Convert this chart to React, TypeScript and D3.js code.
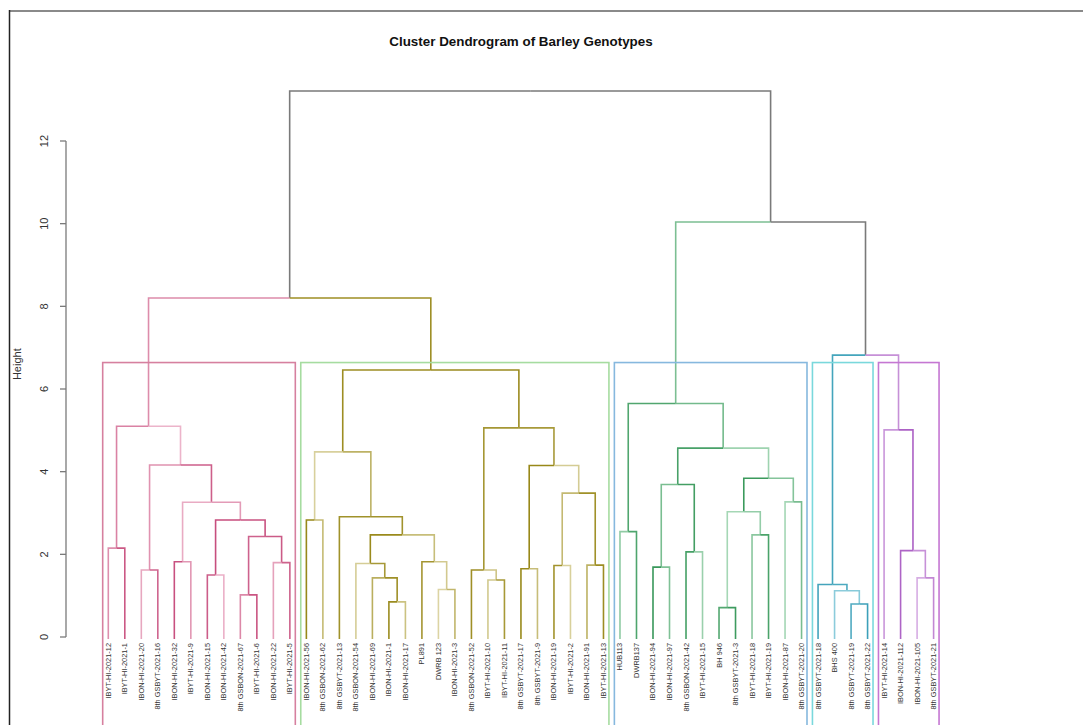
import React from "react";
import * as d3 from "d3";

const title = "Cluster Dendrogram of Barley Genotypes";
const yLabel = "Height";
const yTicks = [0, 2, 4, 6, 8, 10, 12];

const leafLabels = [
  "IBYT-HI-2021-12", "IBYT-HI-2021-1", "IBON-HI-2021-20", "8th GSBYT-2021-16", "IBON-HI-2021-32",
  "IBYT-HI-2021-9", "IBON-HI-2021-15", "IBON-HI-2021-42", "8th GSBON-2021-67", "IBYT-HI-2021-6",
  "IBON-HI-2021-22", "IBYT-HI-2021-5",
  "IBON-HI-2021-56", "8th GSBON-2021-62", "8th GSBYT-2021-13", "8th GSBON-2021-54", "IBON-HI-2021-69",
  "IBON-HI-2021-1", "IBON-HI-2021-17", "PL891", "DWRB 123", "IBON-HI-2021-3", "8th GSBON-2021-52",
  "IBYT-HI-2021-10", "IBYT-HI-2021-11", "8th GSBYT-2021-17", "8th GSBYT-2021-9", "IBON-HI-2021-19",
  "IBYT-HI-2021-2", "IBON-HI-2021-91", "IBYT-HI-2021-13",
  "HUB113", "DWRB137", "IBON-HI-2021-94", "IBON-HI-2021-97", "8th GSBON-2021-42", "IBYT-HI-2021-15",
  "BH 946", "8th GSBYT-2021-3", "IBYT-HI-2021-18", "IBYT-HI-2021-19", "IBON-HI-2021-87", "8th GSBYT-2021-20",
  "8th GSBYT-2021-18", "BHS 400", "8th GSBYT-2021-19", "8th GSBYT-2021-22",
  "IBYT-HI-2021-14", "IBON-HI-2021-112", "IBON-HI-2021-105", "8th GSBYT-2021-21",
];

// cluster (k = 5) of each leaf
const leafCluster = [
  1, 1, 1, 1, 1, 1, 1, 1, 1, 1, 1, 1,
  2, 2, 2, 2, 2, 2, 2, 2, 2, 2, 2, 2, 2, 2, 2, 2, 2, 2, 2,
  3, 3, 3, 3, 3, 3, 3, 3, 3, 3, 3, 3,
  4, 4, 4, 4,
  5, 5, 5, 5,
];

// hclust-style merges: negative = leaf (1-based), positive = merge row (1-based)
const merges: [number, number][] = [
  [-9, -10], [-7, -8], [-3, -4], [-11, -12], [-5, -6], [-1, -2], [1, 4], [2, 7], [5, 8], [3, 9], [6, 10],
  [-18, -19], [-21, -22], [-17, 12], [-16, 14], [-20, 13], [15, 16], [-13, -14], [-15, 17], [18, 19],
  [-24, -25], [-23, 21], [-26, -27], [-28, -29], [-30, -31], [24, 25], [23, 26], [22, 27], [20, 28], [11, 29],
  [-38, -39], [-34, -35], [-36, -37], [-40, -41], [-32, -33], [31, 34], [-42, -43], [32, 33], [36, 37], [38, 39], [35, 40],
  [-46, -47], [-45, 42], [-44, 43],
  [-50, -51], [-49, 45], [-48, 46], [44, 47], [41, 48], [30, 49],
];
const mergeHeights = [
  1.02, 1.5, 1.62, 1.8, 1.82, 2.15, 2.43, 2.83, 3.26, 4.16, 5.1,
  0.85, 1.15, 1.43, 1.78, 1.82, 2.47, 2.83, 2.91, 4.48,
  1.38, 1.62, 1.65, 1.73, 1.74, 3.48, 4.15, 5.06, 6.46, 8.2,
  0.71, 1.69, 2.06, 2.47, 2.55, 3.03, 3.27, 3.69, 3.84, 4.57, 5.65,
  0.8, 1.12, 1.27,
  1.43, 2.09, 5.01, 6.82, 10.04, 13.21,
];

const clusterColors: Record<number, { dark: string; light: string; rect: string }> = {
  1: { dark: "#c64c7c", light: "#edb6cb", rect: "#d6809f" },
  2: { dark: "#978717", light: "#ddd6a6", rect: "#a6dca0" },
  3: { dark: "#38985a", light: "#a9d9b9", rect: "#86b8de" },
  4: { dark: "#3a9fb8", light: "#9fd7e3", rect: "#7ad8dc" },
  5: { dark: "#a656c0", light: "#dbb6e7", rect: "#c577d2" },
};

type Node = { id: number; x: number; h: number; cluster: number; children?: Node[] };

export default function App() {
  const W = 1083, H = 725;
  const x = d3.scalePoint<string>().domain(leafLabels).range([108.3, 933.6]);
  const y = d3.scaleLinear().domain([0, 12]).range([637, 141]);
  const step = x.step();

  const build = (ref: number): Node => {
    if (ref < 0) {
      const i = -ref - 1;
      return { id: -ref, x: x(leafLabels[i]) as number, h: 0, cluster: leafCluster[i] };
    }
    const [a, b] = merges[ref - 1];
    const l = build(a), r = build(b);
    return {
      id: 100 + ref,
      x: (l.x + r.x) / 2,
      h: mergeHeights[ref - 1],
      cluster: l.cluster === r.cluster ? l.cluster : 0,
      children: [l, r],
    };
  };
  const root = build(merges.length);

  const shade = (n: Node) => {
    const t = (n.id * 0.618034) % 1;
    const c = clusterColors[n.cluster];
    return d3.interpolateRgb(c.dark, c.light)(t < 0.5 ? t * 0.5 : 0.5 + (t - 0.5) * 1.0);
  };

  const segs: { d: string; color: string }[] = [];
  const walk = (n: Node, parentCluster: number) => {
    if (!n.children) return;
    for (const c of n.children) {
      let color: string;
      if (c.cluster === 0) color = "#7a7a7a";
      else if (n.cluster === 0) color = d3.interpolateRgb(clusterColors[c.cluster].dark, clusterColors[c.cluster].light)(c.cluster % 2 === 1 ? 0.6 : 0.1);
      else color = shade(c);
      const yBottom = c.children ? y(c.h) : y(0) + 2;
      segs.push({ d: `M${n.x},${y(n.h)}H${c.x}V${yBottom}`, color });
      walk(c, n.cluster);
    }
  };
  walk(root, 0);

  // rectangles for k = 5
  const sortedH = [...mergeHeights].sort((a, b) => b - a);
  const rectTop = (sortedH[3] + sortedH[4]) / 2;
  const clusters = Array.from(new Set(leafCluster));
  const rects = clusters.map((k) => {
    const idx = leafCluster.map((c, i) => (c === k ? i : -1)).filter((i) => i >= 0);
    const x0 = (x(leafLabels[idx[0]]) as number) - 0.34 * step;
    const x1 = (x(leafLabels[idx[idx.length - 1]]) as number) + 0.33 * step;
    return { k, x0, x1 };
  });

  return (
    <div style={{ position: "absolute", left: 0, top: 0, width: W, height: H, background: "#fff" }}>
      <svg width={W} height={H} style={{ display: "block", fontFamily: "'Liberation Sans', Arial, sans-serif" }}>
        <rect x={0} y={0} width={W} height={H} fill="#fff" />
        <line x1={9} x2={W} y1={11} y2={11} stroke="#8a8a8a" strokeWidth={2} />
        <line x1={9.5} x2={9.5} y1={10} y2={H} stroke="#222" strokeWidth={1.5} />
        <text x={521} y={46} textAnchor="middle" fontWeight="bold" fontSize={13.4} fill="#111">
          {title}
        </text>
        {/* y axis */}
        <line x1={66} x2={66} y1={y(0)} y2={y(12)} stroke="#7a7a7a" strokeWidth={1.3} />
        {yTicks.map((t) => (
          <g key={t}>
            <line x1={60} x2={66} y1={y(t)} y2={y(t)} stroke="#7a7a7a" strokeWidth={1.3} />
            <text transform={`translate(48,${y(t)}) rotate(-90)`} textAnchor="middle" fontSize={11} fill="#333">
              {t}
            </text>
          </g>
        ))}
        <text transform={`translate(21,${y(6.6)}) rotate(-90)`} textAnchor="middle" fontSize={11} fill="#333">
          {yLabel}
        </text>
        {/* branches */}
        {segs.map((s, i) => (
          <path key={i} d={s.d} fill="none" stroke={s.color} strokeWidth={1.6} />
        ))}
        {/* cluster rectangles */}
        {rects.map((r) => (
          <rect
            key={r.k}
            x={r.x0}
            y={y(rectTop)}
            width={r.x1 - r.x0}
            height={H + 20 - y(rectTop)}
            fill="none"
            stroke={clusterColors[r.k].rect}
            strokeWidth={1.6}
          />
        ))}
        {/* leaf labels */}
        {leafLabels.map((l) => (
          <text
            key={l}
            transform={`translate(${(x(l) as number) + 2.5},643) rotate(-90)`}
            textAnchor="end"
            fontSize={7.4}
            fill="#333"
          >
            {l}
          </text>
        ))}
      </svg>
    </div>
  );
}
